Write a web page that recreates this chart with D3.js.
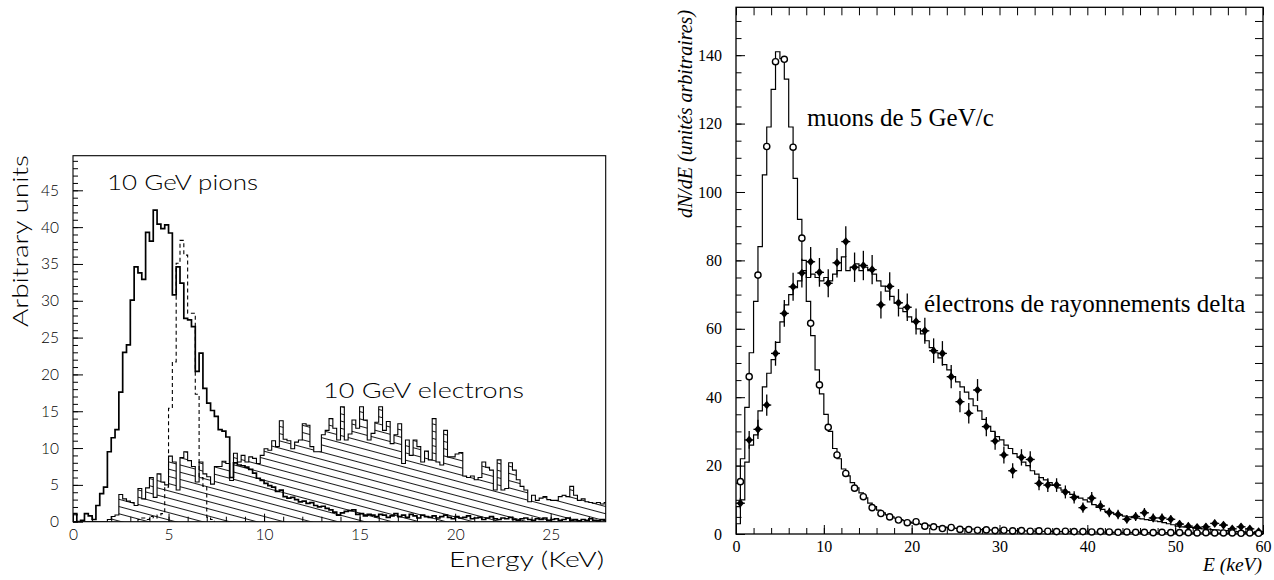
<!DOCTYPE html>
<html><head><meta charset="utf-8">
<script src="https://cdn.jsdelivr.net/npm/d3@7/dist/d3.min.js"></script>
<style>
body{margin:0;background:#fff}
.lt{font-family:Lato,"DejaVu Sans",sans-serif;font-weight:300}
.rt{font-family:"Liberation Serif","Times New Roman",serif}
</style>
</head><body>
<svg id="c" width="1274" height="580"></svg>
<script>
// ---------------- LEFT PANEL DATA (0.2 keV bins) ----------------
const leftBinWidth = 0.2;
const pionCounts = [1.1,0,0.2,1.1,0.8,0.3,2.2,3.8,4.7,9.5,11.4,12.5,17.6,23.0,24.0,30.1,34.6,33.8,32.9,39.3,
38.1,42.3,40.4,39.8,40.3,39.2,30.8,34.6,32.4,27.6,27.4,26.5,20.4,22.9,18.1,16.1,15.1,14.3,12.5,12.3,
11.5,6.0,8.0,7.7,7.6,7.4,7.1,6.6,5.9,5.6,5.2,4.9,4.7,4.1,4.3,3.4,3.2,3.3,3.0,2.7,
2.8,2.5,2.6,2.2,2.0,2.1,1.8,1.6,1.3,0.9,1.2,1.4,1.5,1.6,1.0,1.1,0.8,1.0,0.9,0.7,
1.0,0.9,0.6,0.8,1.1,0.7,0.9,0.6,1.0,0.8,0.5,0.9,0.7,0.6,0.8,0.5,0.7,0.9,0.6,0.4,
0.7,0.5,0.6,0.8,0.4,0.5,0.6,0.3,0.5,0.7,0.4,0.3,0.5,0.4,0.6,0.3,0.2,0.4,0.5,0.3,
0.2,0.4,0.3,0.5,0.2,0.3,0.4,0.2,0.3,0.5,0.2,0.3,0.1,0.3,0.2,0.4,0.2,0.1,0.3,0.2];
const dashedStartBin = 17;
const dashedCounts = [0.3,0.5,0.3,0.7,0.5,0.9,1.1,4.7,15.4,21.7,35.1,38.2,36.2,28.3,28.3,17.3,6.0,4.8,0.6,0.3];
const electronCounts = [0,0,0,0,0,0,0,0,0,0.3,0.7,0.9,3.7,3.1,2.8,2.6,2.2,4.5,3.1,4.6,
6.0,3.3,6.5,5.4,5.0,8.9,8.1,4.3,8.7,9.5,8.3,7.5,5.4,8.1,6.5,6.1,5.1,7.5,7.5,8.2,
7.9,5.6,9.3,8.1,9.0,8.1,8.8,8.6,7.9,9.0,9.9,9.7,11.0,10.2,13.7,11.2,11.0,9.9,10.8,11.1,
13.3,13.1,10.2,9.5,9.5,11.8,12.4,14.0,12.7,11.1,15.6,11.1,11.9,13.8,12.7,15.6,13.8,11.1,12.0,13.5,
15.6,12.4,13.6,10.6,11.8,13.3,7.9,11.1,9.0,11.1,10.2,8.1,9.6,8.4,14.0,8.1,7.7,12.4,8.8,8.8,
9.2,9.4,6.2,6.0,6.2,5.7,6.0,8.1,7.4,7.0,4.3,8.4,4.3,4.5,8.0,7.0,5.7,4.8,4.3,2.7,
3.6,2.9,3.2,3.4,3.0,2.9,2.9,3.4,3.6,3.4,4.8,3.6,2.9,3.1,2.7,2.6,2.5,2.6,2.4,2.6];
const leftXTicks = [0,5,10,15,20,25];
const leftYTicks = [0,5,10,15,20,25,30,35,40,45];

// ---------------- RIGHT PANEL DATA ----------------
const rightBinWidth = 0.5;
const muonHist = [8,22,37,53,68,84,105,119,130,141,139,133,119,104,92,80,68,58,48,41,
35,30,25,22,19,17,15,13.5,12,10.6,9.0,8.0,7.0,6.2,5.6,5.0,4.6,4.2,3.9,3.5,
3.2,3.0,2.8,2.6,2.4,2.2,2.1,2.0,1.85,1.75,1.65,1.6,1.5,1.45,1.4,1.3,1.28,1.2,1.15,1.1,
1.08,1.02,1.0,0.96,0.94,0.9,0.88,0.84,0.82,0.8,0.78,0.75,0.74,0.72,0.7,0.68,0.66,0.64,0.62,0.6,
0.59,0.58,0.56,0.55,0.53,0.52,0.5,0.49,0.48,0.47,0.46,0.45,0.44,0.43,0.42,0.41,0.4,0.39,0.38,0.37,
0.36,0.35,0.34,0.33,0.32,0.31,0.3,0.3,0.29,0.28,0.28,0.27,0.26,0.26,0.25,0.25,0.24,0.24,0.23,0.23];
const electronHist = [3,10,21,26,29,36,43,47,51,56,62,67,70,72,74,77,75,76,75,74,
75,74,76,77,81,77,78,79,77,78,77,76,74,72.5,71,69.5,67.5,66,65,63.5,
62,60,58.5,56.5,54.5,53,51.5,49.5,48,46,44.5,43,41.5,39.5,37.5,36,33.5,31.5,30,28.5,
27.5,26,25,23.5,22.5,21,20,18.5,17.5,16.5,15.8,15,14.2,13.5,12.8,12.2,11.6,11,10.5,10,
9.4,8.6,7.8,7.2,6.6,6.2,5.8,5.5,5.2,5.0,4.8,4.6,4.4,4.2,4.0,3.8,3.6,3.3,3.0,2.7,
2.3,2.1,2.0,1.9,1.7,1.6,1.5,1.4,1.3,1.2,1.1,1.0,0.9,0.8,0.7,0.6,0.5,0.4,0.3,0.2];
const markerEnergies = [0.5,1.5,2.5,3.5,4.5,5.5,6.5,7.5,8.5,9.5,10.5,11.5,12.5,13.5,14.5,15.5,16.5,17.5,18.5,19.5,
20.5,21.5,22.5,23.5,24.5,25.5,26.5,27.5,28.5,29.5,30.5,31.5,32.5,33.5,34.5,35.5,36.5,37.5,38.5,39.5,
40.5,41.5,42.5,43.5,44.5,45.5,46.5,47.5,48.5,49.5,50.5,51.5,52.5,53.5,54.5,55.5,56.5,57.5,58.5,59.5];
const muonPoints = [15.3,46.0,75.7,113.3,138.1,138.8,113.1,86.5,61.6,43.6,31.2,23.1,17.7,13.4,10.9,7.7,6.0,5.0,4.1,3.3,
3.6,2.3,2.1,1.6,1.9,1.35,1.3,1.1,1.2,1.0,1.1,0.9,1.0,0.8,0.9,0.8,0.7,0.8,0.7,0.7,
0.6,0.7,0.6,0.5,0.6,0.5,0.5,0.4,0.5,0.4,0.4,0.4,0.3,0.4,0.3,0.3,0.3,0.2,0.3,0.2];
const electronPoints = [9.0,27.5,30.6,37.7,52.8,64.5,72.3,76.3,79.6,76.5,73.3,79.3,85.5,78.0,78.5,77.3,67.0,72.4,67.6,66.3,
62.1,59.4,53.6,52.8,46.0,38.7,35.3,42.1,31.4,27.2,23.1,18.5,22.4,21.8,14.8,14.3,14.3,12.3,10.7,7.7,
10.5,8.2,6.3,5.7,4.3,5.1,6.2,4.7,4.7,4.3,2.9,2.3,1.95,2.1,3.1,2.6,1.5,2.1,1.5,0.7];
const electronErrors = [1.6,2.6,2.8,3.1,3.6,3.9,4.1,4.2,4.3,4.2,4.1,4.3,4.5,4.3,4.3,4.3,4.0,4.1,4.0,4.0,
3.8,3.8,3.6,3.6,3.4,3.1,3.0,3.2,2.8,2.6,2.5,2.2,2.4,2.4,2.0,2.0,2.0,1.9,1.8,1.5,
1.8,1.6,1.4,1.4,1.2,1.3,1.4,1.3,1.3,1.2,1.1,1.0,0.9,1.0,1.1,1.0,0.9,1.0,0.9,0.7];
const rightXTicks = [0,10,20,30,40,50,60];
const rightYTicks = [0,20,40,60,80,100,120,140];

// ---------------- DRAW ----------------
const svg = d3.select("#c");
const defs = svg.append("defs");

function histPoints(vals, bw, offset) {
  const pts = [[offset*bw, 0]];
  vals.forEach((v,i) => pts.push([(offset+i)*bw, v]));
  pts.push([(offset+vals.length)*bw, vals[vals.length-1]]);
  pts.push([(offset+vals.length)*bw, 0]);
  return pts;
}

// ===== LEFT =====
const xL = d3.scaleLinear().domain([0, 27.88]).range([73, 605.7]);
const yL = d3.scaleLinear().domain([0, 49.7]).range([521.7, 155.7]);

defs.append("clipPath").attr("id","clipL").append("rect")
  .attr("x", xL(0)).attr("y", yL(49.7)).attr("width", xL(27.88)-xL(0)).attr("height", yL(0)-yL(49.7));
const pat = defs.append("pattern").attr("id","hatch").attr("patternUnits","userSpaceOnUse")
  .attr("width", 60).attr("height", 7).attr("patternTransform","rotate(15)");
pat.append("line").attr("x1",0).attr("x2",60).attr("y1",3.5).attr("y2",3.5)
  .attr("stroke","#000").attr("stroke-width",0.9);

const gL = svg.append("g");
const plotL = gL.append("g").attr("clip-path","url(#clipL)");
const lineL = d3.line().x(d=>xL(d[0])).y(d=>yL(d[1])).curve(d3.curveStepAfter);
const areaL = d3.area().x(d=>xL(d[0])).y0(yL(0)).y1(d=>yL(d[1])).curve(d3.curveStepAfter);

const ePts = histPoints(electronCounts, leftBinWidth, 0);
plotL.append("path").attr("d", areaL(ePts)).attr("fill","url(#hatch)");
plotL.append("path").attr("d", lineL(ePts)).attr("fill","none").attr("stroke","#000").attr("stroke-width",1.1);
plotL.append("path").attr("d", lineL(histPoints(dashedCounts, leftBinWidth, dashedStartBin)))
  .attr("fill","none").attr("stroke","#000").attr("stroke-width",1.1).attr("stroke-dasharray","4,3");
plotL.append("path").attr("d", lineL(histPoints(pionCounts, leftBinWidth, 0)))
  .attr("fill","none").attr("stroke","#000").attr("stroke-width",1.7);

function styleAxis(g){ g.select(".domain").remove(); g.selectAll("line").attr("stroke","#000").attr("stroke-width",1); }

gL.append("g").attr("transform",`translate(0,${yL(0)})`)
  .call(d3.axisBottom(xL).tickValues(d3.range(0,28,1)).tickSize(-5).tickFormat(""))
  .call(styleAxis);
gL.append("g").attr("transform",`translate(0,${yL(0)})`).attr("class","lt")
  .call(d3.axisBottom(xL).tickValues(leftXTicks).tickSize(-8).tickPadding(7.3).tickFormat(d3.format("d")))
  .call(styleAxis)
  .selectAll("text").attr("font-size",15.5).attr("fill","#000").attr("font-family",null);
gL.append("g").attr("transform",`translate(${xL(0)},0)`)
  .call(d3.axisLeft(yL).tickValues(d3.range(0,50,1)).tickSize(-5).tickFormat(""))
  .call(styleAxis);
gL.append("g").attr("transform",`translate(${xL(0)},0)`).attr("class","lt")
  .call(d3.axisLeft(yL).tickValues(leftYTicks).tickSize(-10).tickPadding(14).tickFormat(d3.format("d")))
  .call(styleAxis)
  .selectAll("text").attr("font-size",15.5).attr("fill","#000").attr("font-family",null);

gL.append("rect").attr("x",xL(0)).attr("y",yL(49.7)).attr("width",xL(27.88)-xL(0)).attr("height",yL(0)-yL(49.7))
  .attr("fill","none").attr("stroke","#000").attr("stroke-width",1.1);

gL.append("text").attr("class","lt").attr("x",107).attr("y",190).attr("font-size",21)
  .attr("textLength",151).attr("lengthAdjust","spacingAndGlyphs").text("10 GeV pions");
gL.append("text").attr("class","lt").attr("x",323).attr("y",398).attr("font-size",21)
  .attr("textLength",201).attr("lengthAdjust","spacingAndGlyphs").text("10 GeV electrons");
gL.append("text").attr("class","lt").attr("x",449).attr("y",567).attr("font-size",21)
  .attr("textLength",155).attr("lengthAdjust","spacingAndGlyphs").text("Energy (KeV)");
gL.append("text").attr("class","lt").attr("transform","translate(28,241) rotate(-90)")
  .attr("text-anchor","middle").attr("font-size",22)
  .attr("textLength",172).attr("lengthAdjust","spacingAndGlyphs").text("Arbitrary units");

// ===== RIGHT =====
const xR = d3.scaleLinear().domain([0, 60]).range([736, 1263]);
const yR = d3.scaleLinear().domain([0, 154]).range([534, 7.3]);
defs.append("clipPath").attr("id","clipR").append("rect")
  .attr("x", xR(0)).attr("y", yR(154)).attr("width", xR(60)-xR(0)).attr("height", yR(0)-yR(154));
const gR = svg.append("g");
const plotR = gR.append("g").attr("clip-path","url(#clipR)");
const lineR = d3.line().x(d=>xR(d[0])).y(d=>yR(d[1])).curve(d3.curveStepAfter);
plotR.append("path").attr("d", lineR(histPoints(muonHist, rightBinWidth, 0)))
  .attr("fill","none").attr("stroke","#000").attr("stroke-width",1.2);
plotR.append("path").attr("d", lineR(histPoints(electronHist, rightBinWidth, 0)))
  .attr("fill","none").attr("stroke","#000").attr("stroke-width",1.2);

// axes right
gR.append("g").attr("transform",`translate(0,${yR(0)})`)
  .call(d3.axisBottom(xR).tickValues(d3.range(0,61,2)).tickSize(-6).tickFormat("")).call(styleAxis);
gR.append("g").attr("transform",`translate(0,${yR(0)})`).attr("class","rt")
  .call(d3.axisBottom(xR).tickValues(rightXTicks).tickSize(-9).tickPadding(6.5).tickFormat(d3.format("d")))
  .call(styleAxis).selectAll("text").attr("font-size",16).attr("fill","#000").attr("font-family",null);
gR.append("g").attr("transform",`translate(0,${yR(154)})`)
  .call(d3.axisTop(xR).tickValues(d3.range(0,61,2)).tickSize(-8).tickFormat("")).call(styleAxis);
gR.append("g").attr("transform",`translate(${xR(0)},0)`)
  .call(d3.axisLeft(yR).tickValues(d3.range(0,155,5)).tickSize(-5.5).tickFormat("")).call(styleAxis);
gR.append("g").attr("transform",`translate(${xR(0)},0)`).attr("class","rt")
  .call(d3.axisLeft(yR).tickValues(rightYTicks).tickSize(-9).tickPadding(14).tickFormat(d3.format("d")))
  .call(styleAxis).selectAll("text").attr("font-size",16).attr("fill","#000").attr("font-family",null);
gR.append("g").attr("transform",`translate(${xR(60)},0)`)
  .call(d3.axisRight(yR).tickValues(d3.range(0,155,5)).tickSize(-8).tickFormat("")).call(styleAxis);

gR.append("rect").attr("x",xR(0)).attr("y",yR(154)).attr("width",xR(60)-xR(0)).attr("height",yR(0)-yR(154))
  .attr("fill","none").attr("stroke","#000").attr("stroke-width",1.3);

// markers
const eData = markerEnergies.map((e,i)=>({e, v:electronPoints[i], err:electronErrors[i]}));
const mData = markerEnergies.map((e,i)=>({e, v:muonPoints[i]}));
const eg = gR.append("g");
eg.selectAll("line.err").data(eData).join("line").attr("class","err")
  .attr("x1",d=>xR(d.e)).attr("x2",d=>xR(d.e))
  .attr("y1",d=>yR(d.v-d.err)).attr("y2",d=>yR(d.v+d.err))
  .attr("stroke","#000").attr("stroke-width",1.3);
eg.selectAll("line.h").data(eData).join("line").attr("class","h")
  .attr("x1",d=>xR(d.e)-4.5).attr("x2",d=>xR(d.e)+4.5)
  .attr("y1",d=>yR(d.v)).attr("y2",d=>yR(d.v))
  .attr("stroke","#000").attr("stroke-width",1.3);
eg.selectAll("path").data(eData).join("path")
  .attr("d",d=>{const x=xR(d.e), y=yR(d.v); return `M${x},${y-4.3}L${x+3.6},${y}L${x},${y+4.3}L${x-3.6},${y}Z`;})
  .attr("fill","#000");
gR.append("g").selectAll("circle").data(mData).join("circle")
  .attr("cx",d=>xR(d.e)).attr("cy",d=>yR(d.v)).attr("r",3.1)
  .attr("fill","#fff").attr("stroke","#000").attr("stroke-width",1.4);

// labels right
gR.append("text").attr("class","rt").attr("x",807).attr("y",125.5).attr("font-size",25).text("muons de 5 GeV/c");
gR.append("text").attr("class","rt").attr("x",924).attr("y",311.5).attr("font-size",25).text("électrons de rayonnements delta");
gR.append("text").attr("class","rt").attr("x",1262).attr("y",571).attr("font-size",19.5)
  .attr("font-style","italic").attr("text-anchor","end").text("E (keV)");
gR.append("text").attr("class","rt").attr("transform","translate(692,114) rotate(-90)")
  .attr("text-anchor","middle").attr("font-size",20).attr("font-style","italic")
  .text("dN/dE (unités arbitraires)");
</script>
</body></html>
